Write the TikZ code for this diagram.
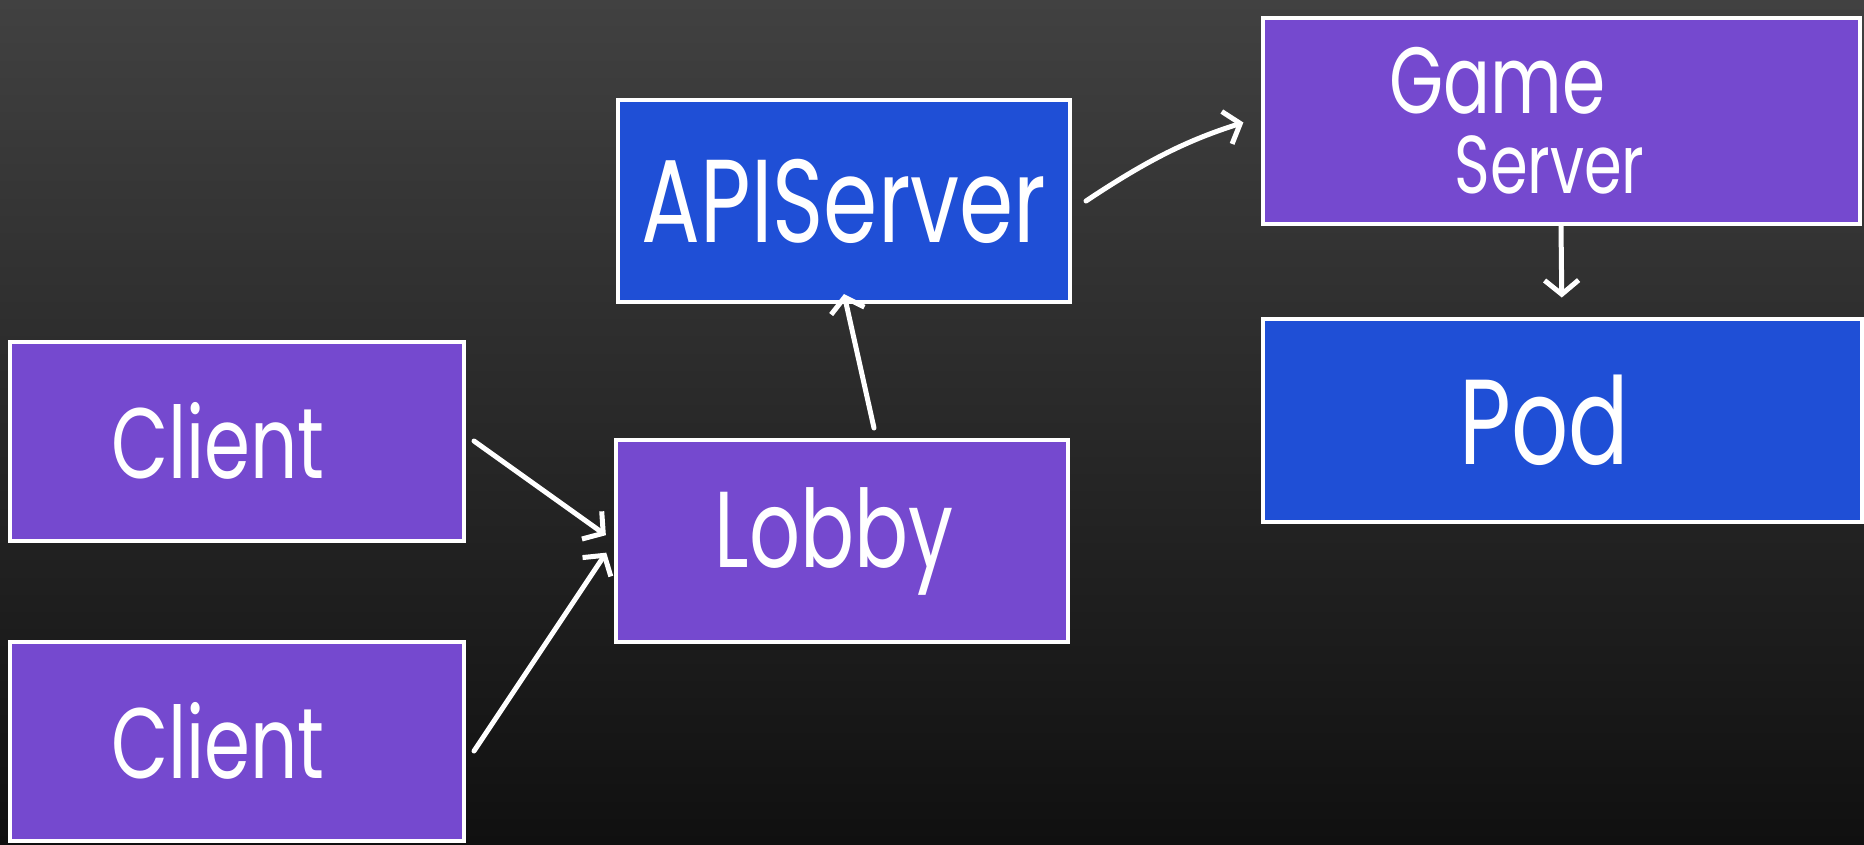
\documentclass[tikz,border=0pt]{standalone}
\usepackage{fontspec}
\setmainfont{Poppins}[FakeStretch=0.74]
\usepackage{tikz}
\usetikzlibrary{arrows.meta}
\definecolor{violetfill}{HTML}{7549CF}
\definecolor{bluefill}{HTML}{1F4FD6}
\definecolor{bgtop}{HTML}{414141}
\definecolor{bgbottom}{HTML}{101010}
\tikzset{
  box/.style={draw=white, line width=4pt, minimum width=452pt, minimum height=202pt,
    inner sep=0pt, text=white},
  violetbox/.style={box, fill=violetfill},
  bluebox/.style={box, fill=bluefill},
  link/.style={draw=white, line width=5pt, line cap=round,
    -{Straight Barb[length=14pt,width=34pt,line width=5pt]}}
}
\begin{document}
\begin{tikzpicture}[x=1pt, y=-1pt]
  \fill[top color=bgtop, bottom color=bgbottom] (0,0) rectangle (1864,844);
  \useasboundingbox (0,0) rectangle (1864,844);

  \node[bluebox, font={\fontsize{118}{120}\selectfont}] (api) at (844,201) {APIServer};
  \node[violetbox, minimum width=597pt, minimum height=206pt, align=left,
    font={\fontsize{94}{80}\selectfont}] (game) at (1561,121)
    {Game\\
     \hspace*{65pt}{\fontsize{82}{80}\selectfont Server}\hspace*{88pt}};
  \node[bluebox, minimum width=599pt, minimum height=203pt,
    font={\fontsize{121}{120}\selectfont}] (pod) at (1562,420)
    {Pod\hspace*{36pt}};
  \node[violetbox, minimum width=454pt, minimum height=199pt,
    font={\fontsize{100}{100}\selectfont}] (client1) at (237,441)
    {Client\hspace*{38pt}};
  \node[violetbox, minimum width=454pt, minimum height=199pt,
    font={\fontsize{100}{100}\selectfont}] (client2) at (237,741)
    {Client\hspace*{38pt}};
  \node[violetbox, font={\fontsize{108}{110}\selectfont}] (lobby) at (842,541)
    {\raisebox{-14pt}{Lobby}\hspace*{16pt}};

  \path
    ([xshift=8pt]client1.east) edge[link, shorten >=10pt] (lobby.west)
    ([xshift=8pt,yshift=-10pt]client2.east) edge[link, shorten >=14pt] (lobby.west)
    ([xshift=32pt,yshift=10pt]lobby.north) edge[link] ([yshift=10pt]api.south)
    ([xshift=14pt]api.east) edge[link, bend left=8, shorten >=18pt] ([yshift=4pt]game.west)
    (game.south) edge[link, shorten >=19pt] (pod.north);
\end{tikzpicture}
\end{document}
